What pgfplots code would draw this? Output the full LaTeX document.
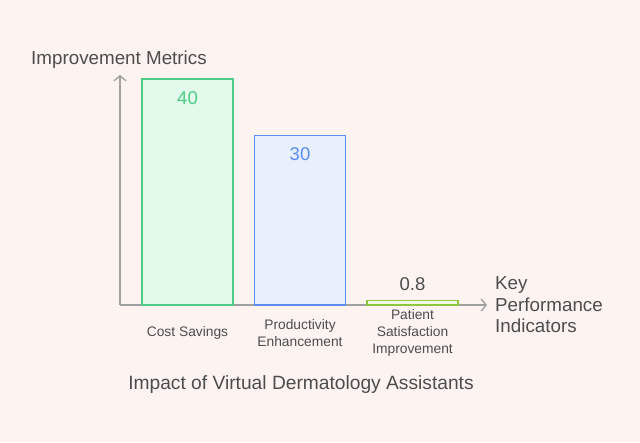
\documentclass[border=0pt]{standalone}
\usepackage{pgfplots}
\pgfplotsset{compat=1.18}
\usetikzlibrary{arrows.meta}
\usepackage{fontspec}
\setmainfont{Liberation Sans}
\definecolor{bg}{HTML}{FDF3F1}
\definecolor{axgray}{HTML}{A0A0A0}
\definecolor{txt}{HTML}{4D4D4D}
\definecolor{gedge}{HTML}{4DCB87}
\definecolor{gfill}{HTML}{E1FAEA}
\definecolor{bedge}{HTML}{5B8DEE}
\definecolor{bfill}{HTML}{E9F0FD}
\definecolor{ledge}{HTML}{8DC63F}
\definecolor{lfill}{HTML}{F3F8E4}
\begin{document}
\begin{tikzpicture}[x=1pt,y=1pt]
\fill[bg] (0,0) rectangle (640,442);
\path[use as bounding box] (0,0) rectangle (640,442);
\begin{axis}[
  at={(120pt,137pt)}, anchor=south west,
  scale only axis, width=367pt, height=230pt,
  xmin=-0.6, xmax=2.662, ymin=0, ymax=40.7,
  axis lines=left,
  axis line style={draw=axgray, line width=1.3pt, -{Straight Barb[length=5pt,width=12pt,line width=1.3pt]}},
  xtick={0,1,2},
  xticklabels={Cost Savings, Productivity\\Enhancement, Patient\\Satisfaction\\Improvement},
  ytick=\empty,
  major tick length=0pt,
  xticklabel style={align=center, anchor=center, yshift=-28pt, font=\fontsize{13.8}{17}\selectfont, text=txt},
  ybar, bar width=91pt, bar shift=0pt,
  clip=false,
]
\addplot[draw=gedge, fill=gfill, line width=1.6pt] coordinates {(0,40)};
\addplot[draw=bedge, fill=bfill, line width=1.6pt] coordinates {(1,30)};
\addplot[draw=ledge, fill=lfill, line width=1.6pt] coordinates {(2,0.8)};
\node[text=gedge, font=\fontsize{18.5}{22}\selectfont, anchor=center, yshift=-19pt] at (axis cs:0,40) {40};
\node[text=bedge, font=\fontsize{18.5}{22}\selectfont, anchor=center, yshift=-19pt] at (axis cs:1,30) {30};
\node[text=txt, font=\fontsize{18.5}{22}\selectfont, anchor=center, yshift=16.5pt] at (axis cs:2,0.8) {0.8};
\end{axis}
\node[text=txt, font=\fontsize{18.8}{22}\selectfont, anchor=base west, inner sep=0pt] at (31,377.7) {Improvement Metrics};
\node[text=txt, font=\fontsize{18.8}{21.5}\selectfont, anchor=west, align=left, inner sep=0pt] at (495,137) {Key\\Performance\\Indicators};
\node[text=txt, font=\fontsize{19.2}{22}\selectfont, anchor=center, inner sep=0pt] at (301,57) {Impact of Virtual Dermatology Assistants};
\end{tikzpicture}
\end{document}
